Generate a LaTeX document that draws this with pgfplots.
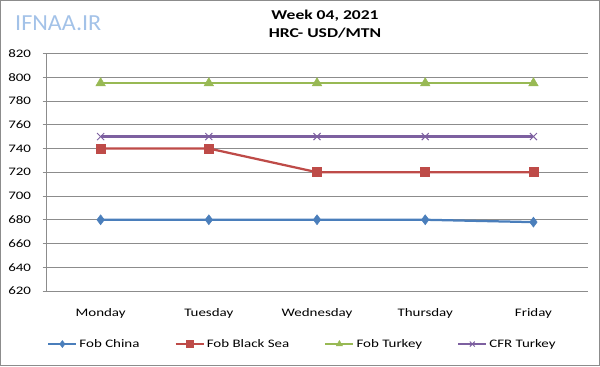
\documentclass[border=0pt]{standalone}
\usepackage{pgfplots}
\pgfplotsset{compat=1.18}
\usepackage{fontspec}
\setmainfont[FakeStretch=1.3]{Carlito}
\newfontfamily\wmfont[FakeStretch=1.05]{Carlito}
\definecolor{cblue}{HTML}{4A7EBB}
\definecolor{cred}{HTML}{BE4B48}
\definecolor{cgreen}{HTML}{98B954}
\definecolor{cpurple}{HTML}{7D60A0}
\definecolor{cgrid}{HTML}{8C8C8C}
\definecolor{cwm}{HTML}{A3C2E8}
\begin{document}
\begin{tikzpicture}[x=1bp,y=1bp]
\useasboundingbox (0,0) rectangle (600,366);
\draw[cgrid,line width=1bp] (0.5,0.5) rectangle (599.5,365.5);
\node[font=\wmfont\fontsize{23bp}{25bp}\selectfont,text=cwm,anchor=base west,inner sep=0pt] at (15,336) {IFNAA.IR};
\node[font=\bfseries\fontsize{13.5bp}{15bp}\selectfont,inner sep=0pt,anchor=base] at (325,346.7) {Week 04, 2021};
\node[font=\bfseries\fontsize{13.5bp}{15bp}\selectfont,inner sep=0pt,anchor=base] at (325,328.3) {HRC- USD/MTN};
\begin{axis}[
  at={(43,63.1)}, anchor=south west,
  scale only axis, width=541bp, height=237.6bp,
  xmin=-0.5, xmax=4.5, ymin=620, ymax=820,
  xtick={0,1,2,3,4},
  xticklabels={Monday,Tuesday,Wednesday,Thursday,Friday},
  ytick={620,640,...,820},
  ymajorgrids, major grid style={cgrid,line width=0.75bp},
  axis x line*=bottom, axis y line*=left,
  axis line style={cgrid,line width=0.75bp},
  x axis line style={-}, y axis line style={-},
  tick align=outside, major tick length=4bp,
  major x tick style={draw=none},
  major y tick style={cgrid,line width=0.75bp},
  tick label style={font=\fontsize{11.5bp}{13bp}\selectfont},
  /pgf/number format/assume math mode=true,
  xticklabel style={yshift=-10bp},
  yticklabel style={xshift=-8bp},
  legend columns=4,
  legend style={draw=none, fill=none, font=\fontsize{11.5bp}{13bp}\selectfont,
    at={(0.473,-0.223)}, anchor=center,
    nodes={inner sep=2bp},
    /tikz/every even column/.append style={column sep=33bp}},
  legend image code/.code={\draw[mark repeat=2,mark phase=2,#1,mark size=3.5bp] plot coordinates {(0bp,0bp) (14bp,0bp) (28bp,0bp)};},
  every axis plot/.append style={line width=2.25bp},
]
\addplot[cblue, mark=diamond*, mark size=5bp, mark options={solid,line width=0.5bp}] coordinates {(0,680) (1,680) (2,680) (3,680) (4,678)};
\addlegendentry{Fob China}
\addplot[cred, mark=square*, mark size=4.5bp, mark options={solid,line width=0.5bp}] coordinates {(0,740) (1,740) (2,720) (3,720) (4,720)};
\addlegendentry{Fob Black Sea}
\addplot[cgreen, mark=triangle*, mark size=5.5bp, mark options={solid,line width=0.5bp}] coordinates {(0,795) (1,795) (2,795) (3,795) (4,795)};
\addlegendentry{Fob Turkey}
\addplot[cpurple, mark=x, mark size=5bp, mark options={solid,line width=1bp}] coordinates {(0,750) (1,750) (2,750) (3,750) (4,750)};
\addlegendentry{CFR Turkey}
\end{axis}
\end{tikzpicture}
\end{document}
